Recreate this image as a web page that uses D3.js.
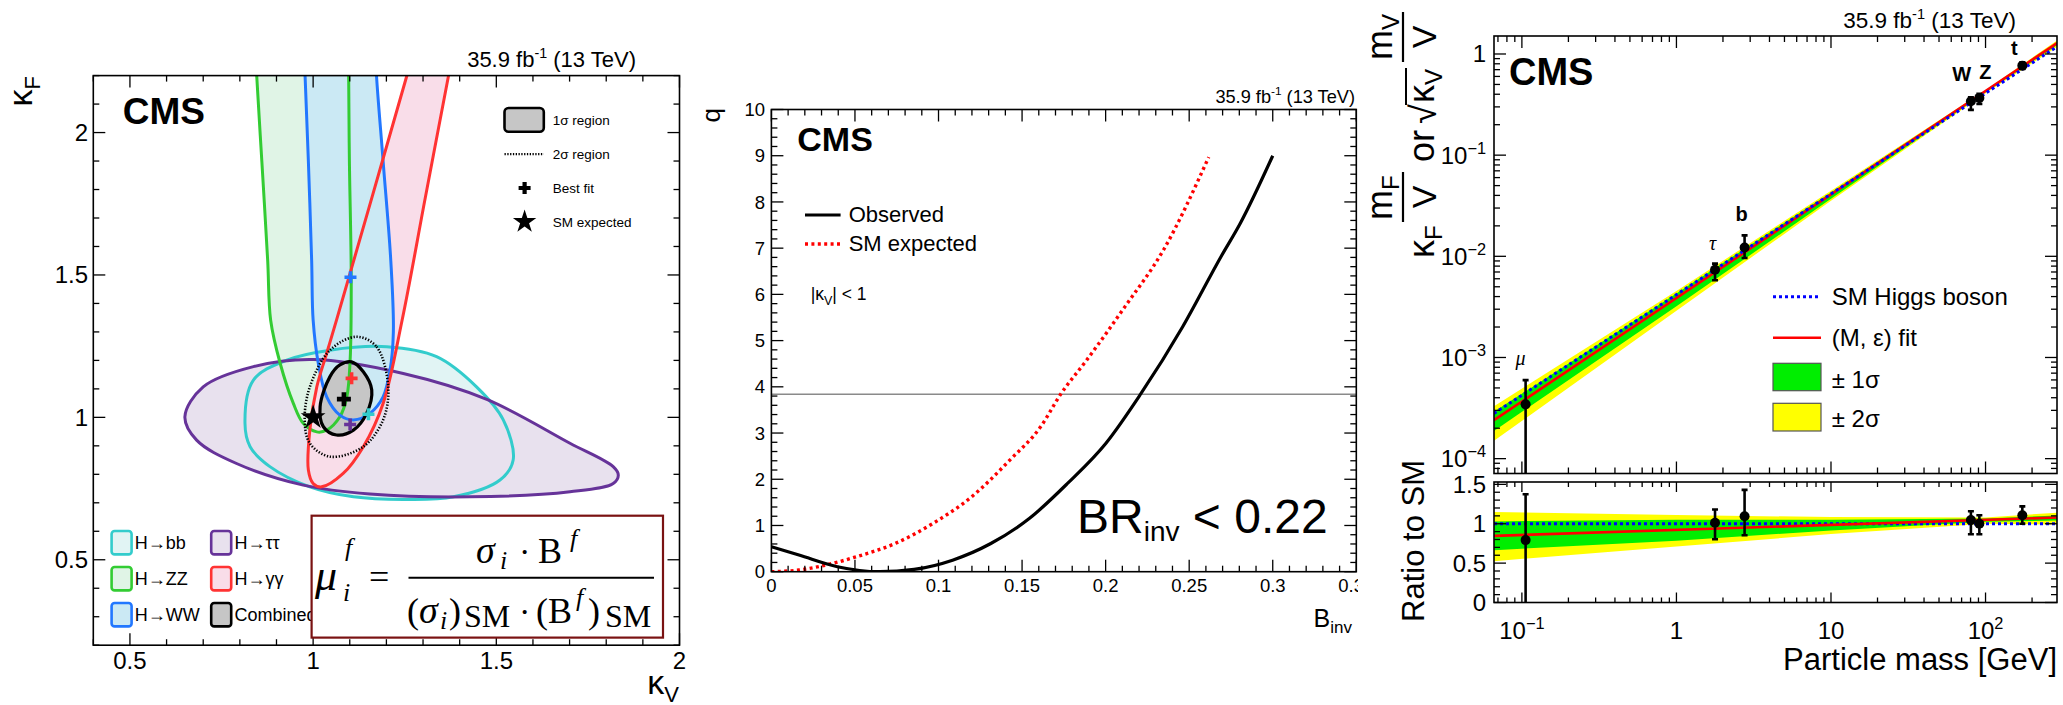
<!DOCTYPE html>
<html><head><meta charset="utf-8">
<script src="https://cdn.jsdelivr.net/npm/d3@7/dist/d3.min.js"></script>
<style>
html,body{margin:0;padding:0;background:#fff;}
svg{display:block;}
text{white-space:pre;}
</style></head>
<body>
<svg id="chart" width="2063" height="705" xmlns="http://www.w3.org/2000/svg"></svg>
<script>
// ================= DATA =================
// ---- Panel 1: kappa_V / kappa_F contours (kV, kF) ----
const kvDomain = [0.4, 2.0];
const kfDomain = [0.2, 2.2];
const p1XTickVals = [0.5, 1, 1.5, 2];
const p1YTickVals = [0.5, 1, 1.5, 2];
const contourBB = [[0.814,0.979],[0.828,0.897],[0.882,0.827],[0.991,0.756],[1.110,0.721],[1.246,0.712],[1.383,0.721],[1.510,0.780],[1.546,0.850],[1.519,0.991],[1.446,1.107],[1.337,1.213],[1.201,1.248],[1.046,1.236],[0.928,1.201],[0.837,1.131]];
const contourTauTau = [[0.650,1.002],[0.700,1.107],[0.837,1.178],[1.0,1.203],[1.246,1.154],[1.474,1.063],[1.701,0.909],[1.819,0.827],[1.833,0.797],[1.819,0.768],[1.701,0.739],[1.428,0.721],[1.155,0.731],[0.973,0.762],[0.791,0.838],[0.682,0.920]];
const contourZZ = [[0.843,2.3],[0.846,2.2],[0.860,1.9],[0.876,1.55],[0.884,1.342],[0.910,1.19],[0.946,1.049],[0.973,0.979],[1.010,0.949],[1.037,0.955],[1.073,1.002],[1.092,1.072],[1.101,1.201],[1.104,1.49],[1.099,1.9],[1.097,2.2],[1.097,2.3]];
const contourWW = [[0.976,2.3],[0.978,2.2],[0.987,1.9],[0.996,1.55],[1.0,1.342],[1.014,1.19],[1.037,1.072],[1.073,1.008],[1.110,0.991],[1.155,1.014],[1.191,1.072],[1.210,1.166],[1.219,1.3],[1.212,1.55],[1.191,1.9],[1.173,2.2],[1.170,2.3]];
const contourGamGam = [[1.278,2.3],[1.255,2.196],[1.160,1.77],[1.064,1.342],[1.037,1.225],[1.010,1.107],[0.991,0.955],[0.987,0.815],[1.0,0.768],[1.023,0.756],[1.082,0.803],[1.137,0.897],[1.191,1.049],[1.243,1.342],[1.306,1.77],[1.369,2.196],[1.385,2.3]];
const combined1sigma = [[1.105,1.195],[1.137,1.160],[1.160,1.096],[1.146,1.014],[1.110,0.955],[1.064,0.938],[1.028,0.967],[1.019,1.037],[1.046,1.143],[1.073,1.184]];
const combined2sigma = [[1.119,1.283],[1.173,1.248],[1.205,1.107],[1.191,0.991],[1.137,0.897],[1.046,0.862],[0.991,0.909],[0.977,0.991],[0.991,1.107],[1.046,1.236]];
const bestFitNames = ["bb","tautau","ZZ","WW","gamgam","combined"];
const bestFitKV    = [1.151, 1.101, 1.084, 1.102, 1.105, 1.084];
const bestFitKF    = [1.011, 0.975, 1.064, 1.492, 1.137, 1.064];
const smPoint = [1.0, 1.0];

// ---- Panel 2: q vs B_inv ----
const bInvDomain = [0, 0.35];
const qDomain = [0, 10];
const p2XTickVals = [0, 0.05, 0.1, 0.15, 0.2, 0.25, 0.3, 0.35];
const p2XTickLabels = ["0", "0.05", "0.1", "0.15", "0.2", "0.25", "0.3", "0.35"];
const p2YTickVals = [0,1,2,3,4,5,6,7,8,9,10];
const bInvObs = [0, 0.0165, 0.0395, 0.0648, 0.0854, 0.1084, 0.1313, 0.1543, 0.1772, 0.2002, 0.2209, 0.2461, 0.2691, 0.2806, 0.300];
const qObs    = [0.54, 0.36, 0.108, 0.0, 0.05, 0.25, 0.61, 1.15, 1.91, 2.78, 3.84, 5.30, 6.82, 7.54, 9.0];
const bInvExp = [0, 0.0165, 0.0326, 0.051, 0.074, 0.0969, 0.1198, 0.1428, 0.1612, 0.1731, 0.1887, 0.2117, 0.2346, 0.2617];
const qExp    = [0, 0.036, 0.144, 0.325, 0.61, 1.05, 1.62, 2.42, 3.14, 3.84, 4.58, 5.74, 6.96, 8.97];
const qThreshold = 3.84;

// ---- Panel 3: coupling vs particle mass ----
const massDomain = [0.066, 290];
const upperDomain = [7.13e-5, 1.506];
const ratioDomain = [0, 1.53];
const particleNames = ["μ", "τ", "b", "W", "Z", "t"];
const particleMass  = [0.1057, 1.777, 2.76, 80.4, 91.2, 173];
const coupling      = [3.44e-4, 7.38e-3, 0.0122, 0.341, 0.368, 0.767];
const couplingUp    = [5.97e-4, 8.47e-3, 0.0161, 0.374, 0.403, 0.827];
const couplingDown  = [0,       5.8e-3,  0.00963, 0.280, 0.321, 0.711];
const ratio         = [0.792, 1.013, 1.096, 1.046, 1.0, 1.108];
const ratioUp       = [1.375, 1.18, 1.43, 1.158, 1.108, 1.22];
const ratioDown     = [0.0, 0.804, 0.854, 0.867, 0.867, 1.0];
const lineMass      = [0.066, 290];
const smLine        = [2.8e-4, 1.18];
const fitLine       = [2.4e-4, 1.28];
const smRatio       = [1.0, 1.0];
const fitRatio      = [0.846, 1.079];
const bandMass      = [0.066, 1, 10, 100, 290];
const band2Lo       = [1.5e-4, 2.9e-3, 0.0355, 0.41, 1.17];
const band2Hi       = [3.3e-4, 4.55e-3, 0.0445, 0.44, 1.36];
const band1Lo       = [1.88e-4, 3.2e-3, 0.037, 0.418, 1.22];
const band1Hi       = [2.9e-4, 4.3e-3, 0.0428, 0.435, 1.31];
const ratioBand2Lo  = [0.525, 0.71, 0.87, 1.0, 0.99];
const ratioBand2Hi  = [1.15, 1.11, 1.085, 1.08, 1.14];
const ratioBand1Lo  = [0.665, 0.785, 0.915, 1.025, 1.04];
const ratioBand1Hi  = [1.03, 1.05, 1.05, 1.065, 1.105];
const p3XTickVals = [0.1, 1, 10, 100];
const p3YTickVals = [1e-4, 1e-3, 1e-2, 1e-1, 1];
const p3RTickVals = [0, 0.5, 1, 1.5];
const p3RTickLabels = ["0", "0.5", "1", "1.5"];

// ================= DRAWING =================
const SANS = '"Liberation Sans", Arial, Helvetica, sans-serif';
const SERIF = '"Liberation Serif", "Times New Roman", serif';
const svg = d3.select("#chart");
svg.append("rect").attr("width", 2063).attr("height", 705).attr("fill", "#fff");
const defs = svg.append("defs");
function clip(id, b) {
  defs.append("clipPath").attr("id", id).append("rect")
    .attr("x", b.x0).attr("y", b.y0).attr("width", b.x1 - b.x0).attr("height", b.y1 - b.y0);
}
function txt(g, x, y, s, o = {}) {
  const t = g.append("text").attr("x", x).attr("y", y)
    .attr("font-family", o.family || SANS).attr("font-size", o.size || 20).attr("fill", o.fill || "#000");
  if (o.anchor) t.attr("text-anchor", o.anchor);
  if (o.weight) t.attr("font-weight", o.weight);
  if (o.style) t.attr("font-style", o.style);
  if (s != null) t.text(s);
  return t;
}
function frame(g, b, w) {
  g.append("rect").attr("x", b.x0).attr("y", b.y0).attr("width", b.x1 - b.x0).attr("height", b.y1 - b.y0)
    .attr("fill", "none").attr("stroke", "#000").attr("stroke-width", w || 1.6);
}
function ticks(g, xs, ys, b, o) {
  const L = g.append("g").attr("stroke", "#000").attr("stroke-width", 1.3);
  const inX = v => { const p = xs(v); return p >= b.x0 - 0.5 && p <= b.x1 + 0.5; };
  const inY = v => { const p = ys(v); return p >= b.y0 - 0.5 && p <= b.y1 + 0.5; };
  const xt = (vals, len) => (vals || []).forEach(v => {
    if (!inX(v)) return; const p = xs(v);
    L.append("line").attr("x1", p).attr("x2", p).attr("y1", b.y1).attr("y2", b.y1 - len);
    L.append("line").attr("x1", p).attr("x2", p).attr("y1", b.y0).attr("y2", b.y0 + len);
  });
  const yt = (vals, len) => (vals || []).forEach(v => {
    if (!inY(v)) return; const p = ys(v);
    L.append("line").attr("y1", p).attr("y2", p).attr("x1", b.x0).attr("x2", b.x0 + len);
    L.append("line").attr("y1", p).attr("y2", p).attr("x1", b.x1).attr("x2", b.x1 - len);
  });
  xt(o.xMajor, o.xMajLen || 12); xt(o.xMinor, o.xMinLen || 6);
  yt(o.yMajor, o.yMajLen || 12); yt(o.yMinor, o.yMinLen || 6);
}
function lumi(g, xr, yb, fs) {
  const t = txt(g, xr, yb, null, { size: fs, anchor: "end" });
  t.append("tspan").text("35.9 fb");
  t.append("tspan").attr("dy", -fs * 0.42).attr("font-size", fs * 0.65).text("-1");
  t.append("tspan").attr("dy", fs * 0.42).text(" (13 TeV)");
}
function plus(g, cx, cy, s, w, col) {
  g.append("path").attr("d", `M${cx - s},${cy}H${cx + s}M${cx},${cy - s}V${cy + s}`)
    .attr("stroke", col).attr("stroke-width", w).attr("fill", "none");
}
function powLabel(t, v, fs) {
  const e = Math.round(Math.log10(v));
  if (e === 0) { t.text("1"); return; }
  if (e === 1) { t.text("10"); return; }
  t.append("tspan").text("10");
  t.append("tspan").attr("dy", -fs * 0.42).attr("font-size", fs * 0.68).text(e < 0 ? "\u2212" + (-e) : String(e));
}
const minorRange = (a, b, s, majors) => d3.range(a, b + s / 2, s).map(v => +v.toFixed(6)).filter(v => !majors.some(m => Math.abs(m - v) < 1e-9));
function logMinors(lo, hi) {
  const out = [];
  for (let e = Math.floor(Math.log10(lo)); e <= Math.ceil(Math.log10(hi)); e++)
    for (let k = 2; k <= 9; k++) { const v = k * Math.pow(10, e); if (v >= lo && v <= hi) out.push(v); }
  return out;
}

// ---------------- Panel 1 ----------------
const P1 = { x0: 93.3, x1: 679.5, y0: 75.6, y1: 645.2 };
const x1 = d3.scaleLinear().domain(kvDomain).range([P1.x0, P1.x1]);
const y1 = d3.scaleLinear().domain(kfDomain).range([P1.y1, P1.y0]);
clip("c1", P1);
const g1 = svg.append("g");
const gc1 = g1.append("g").attr("clip-path", "url(#c1)");
const lnClosed = d3.line().x(d => x1(d[0])).y(d => y1(d[1])).curve(d3.curveCatmullRomClosed.alpha(0.5));
const lnOpen = d3.line().x(d => x1(d[0])).y(d => y1(d[1])).curve(d3.curveCatmullRom.alpha(0.5));
const channels = {
  bb:     { pts: contourBB,     closed: true,  stroke: "#33cccc", fill: "#e1f4f4", label: "H\u2192bb" },
  tautau: { pts: contourTauTau, closed: true,  stroke: "#663399", fill: "#e8e1ee", label: "H\u2192\u03c4\u03c4" },
  ZZ:     { pts: contourZZ,     closed: false, stroke: "#33cc33", fill: "#e0f4e6", label: "H\u2192ZZ" },
  gamgam: { pts: contourGamGam, closed: false, stroke: "#ff3333", fill: "#f9dde9", label: "H\u2192\u03b3\u03b3" },
  WW:     { pts: contourWW,     closed: false, stroke: "#2277ff", fill: "#cbe9f4", label: "H\u2192WW" }
};
const pathOf = c => c.closed ? lnClosed(c.pts) : lnOpen(c.pts);
["bb", "tautau", "ZZ", "gamgam", "WW"].forEach(k => {
  const c = channels[k];
  gc1.append("path").attr("d", c.closed ? lnClosed(c.pts) : lnOpen(c.pts) + "Z").attr("fill", c.fill).attr("stroke", "none");
});
gc1.append("path").attr("d", lnClosed(combined1sigma)).attr("fill", "#c6c6c6");
["bb", "tautau", "ZZ", "WW", "gamgam"].forEach(k => {
  const c = channels[k];
  gc1.append("path").attr("d", pathOf(c)).attr("fill", "none").attr("stroke", c.stroke).attr("stroke-width", 3);
});
gc1.append("path").attr("d", lnClosed(combined2sigma)).attr("fill", "none").attr("stroke", "#000")
  .attr("stroke-width", 2.6).attr("stroke-dasharray", "1.3,1.7");
gc1.append("path").attr("d", lnClosed(combined1sigma)).attr("fill", "none").attr("stroke", "#000").attr("stroke-width", 3.2);
const fitCols = { bb: "#33cccc", tautau: "#663399", ZZ: "#33cc33", WW: "#2277ff", gamgam: "#ff3333", combined: "#000" };
bestFitNames.forEach((n, i) => {
  if (n === "combined") return;
  plus(gc1, x1(bestFitKV[i]), y1(bestFitKF[i]), 6, 3.6, fitCols[n]);
});
gc1.append("path").attr("d", d3.symbol(d3.symbolStar, 190)()).attr("transform", `translate(${x1(smPoint[0])},${y1(smPoint[1])})`).attr("fill", "#000");
const ci = bestFitNames.indexOf("combined");
plus(gc1, x1(bestFitKV[ci]), y1(bestFitKF[ci]), 7, 4.6, "#000");

frame(g1, P1);
ticks(g1, x1, y1, P1, {
  xMajor: p1XTickVals, xMinor: minorRange(0.4, 2.0, 0.1, p1XTickVals),
  yMajor: p1YTickVals, yMinor: minorRange(0.2, 2.2, 0.1, p1YTickVals)
});
p1XTickVals.forEach(v => txt(g1, x1(v), 669, String(v), { size: 24, anchor: "middle" }));
p1YTickVals.forEach(v => txt(g1, 88, y1(v) + 8.5, String(v), { size: 24, anchor: "end" }));
{
  const gk = g1.append("g").attr("transform", "translate(32,76) rotate(-90)");
  const t = txt(gk, 0, 0, null, { size: 34, anchor: "end" });
  t.append("tspan").text("\u03ba");
  t.append("tspan").attr("font-size", 22).attr("dy", 8).text("F");
  const t2 = txt(g1, 679, 694, null, { size: 34, anchor: "end" });
  t2.append("tspan").text("\u03ba");
  t2.append("tspan").attr("font-size", 22).attr("dy", 8).text("V");
}
lumi(g1, 636, 67.4, 22);
txt(g1, 122.8, 123.7, "CMS", { size: 37, weight: "bold" });
g1.append("rect").attr("x", 504.5).attr("y", 108).attr("width", 39.3).attr("height", 23.7).attr("rx", 4)
  .attr("fill", "#c6c6c6").attr("stroke", "#000").attr("stroke-width", 2.6);
txt(g1, 552.7, 125, "1\u03c3 region", { size: 13.5 });
g1.append("line").attr("x1", 504.5).attr("x2", 543.8).attr("y1", 154.2).attr("y2", 154.2)
  .attr("stroke", "#000").attr("stroke-width", 2.2).attr("stroke-dasharray", "1.3,1.5");
txt(g1, 552.7, 159, "2\u03c3 region", { size: 13.5 });
plus(g1, 524.6, 188, 6, 4.2, "#000");
txt(g1, 552.7, 193, "Best fit", { size: 13.5 });
g1.append("path").attr("d", d3.symbol(d3.symbolStar, 170)()).attr("transform", "translate(524.6,221.7)").attr("fill", "#000");
txt(g1, 552.7, 226.5, "SM expected", { size: 13.5 });
const legItems = [
  ["bb", 0, 0], ["ZZ", 0, 1], ["WW", 0, 2], ["tautau", 1, 0], ["gamgam", 1, 1], ["combined", 1, 2]
];
const rowY = [542.7, 578.7, 614.7], colBox = [111.6, 211.2], colTxt = [134.8, 234.4];
legItems.forEach(([k, c, r]) => {
  const ch = channels[k];
  g1.append("rect").attr("x", colBox[c]).attr("y", rowY[r] - 11.7).attr("width", 20).attr("height", 23.4).attr("rx", 3)
    .attr("fill", ch ? ch.fill : "#c6c6c6").attr("stroke", ch ? ch.stroke : "#000").attr("stroke-width", 2.6);
  txt(g1, colTxt[c], rowY[r] + 6.5, ch ? ch.label : "Combined", { size: 18 });
});
{
  const fb = g1.append("g");
  fb.append("rect").attr("x", 311.6).attr("y", 515.7).attr("width", 351.4).attr("height", 121.9)
    .attr("fill", "#fff").attr("stroke", "#7a1212").attr("stroke-width", 2.2);
  const S = (x, y, s, size, it) => txt(fb, x, y, s, { family: SERIF, size: size, style: it ? "italic" : null });
  S(315, 590, "\u03bc", 44, true);
  S(345, 556, "f", 26, true);
  S(343, 601, "i", 26, true);
  S(369, 589, "=", 36, false);
  fb.append("line").attr("x1", 408.5).attr("x2", 654).attr("y1", 577.8).attr("y2", 577.8).attr("stroke", "#000").attr("stroke-width", 2);
  S(476, 563, "\u03c3", 38, true);
  S(500, 569, "i", 26, true);
  S(519, 563, "\u00b7", 34, false);
  S(538, 563, "B", 36, false);
  S(570, 547, "f", 26, true);
  S(407, 622.7, "(", 36, false);
  S(419, 622.7, "\u03c3", 38, true);
  S(440, 629, "i", 26, true);
  S(449, 622.7, ")", 36, false);
  S(464, 627, "SM", 32, false);
  S(519, 622.7, "\u00b7", 34, false);
  S(536, 622.7, "(", 36, false);
  S(548, 622.7, "B", 36, false);
  S(576, 606, "f", 26, true);
  S(588, 622.7, ")", 36, false);
  S(605, 627, "SM", 32, false);
}

// ---------------- Panel 2 ----------------
const P2 = { x0: 771.4, x1: 1356.3, y0: 109.5, y1: 571.7 };
const x2 = d3.scaleLinear().domain(bInvDomain).range([P2.x0, P2.x1]);
const y2 = d3.scaleLinear().domain(qDomain).range([P2.y1, P2.y0]);
clip("c2", P2);
clip("c2lab", { x0: 690, x1: 1358, y0: 0, y1: 705 });
const g2 = svg.append("g");
const gc2 = g2.append("g").attr("clip-path", "url(#c2)");
gc2.append("line").attr("x1", P2.x0).attr("x2", P2.x1).attr("y1", y2(qThreshold)).attr("y2", y2(qThreshold))
  .attr("stroke", "#8a8a8a").attr("stroke-width", 1.6);
const ln2 = d3.line().x(d => x2(d[0])).y(d => y2(d[1])).curve(d3.curveMonotoneX);
gc2.append("path").attr("d", ln2(bInvExp.map((b, i) => [b, qExp[i]]))).attr("fill", "none")
  .attr("stroke", "#ff0000").attr("stroke-width", 3.4).attr("stroke-dasharray", "3,3.4");
gc2.append("path").attr("d", ln2(bInvObs.map((b, i) => [b, qObs[i]]))).attr("fill", "none")
  .attr("stroke", "#000").attr("stroke-width", 3.2);
frame(g2, P2);
ticks(g2, x2, y2, P2, {
  xMajor: p2XTickVals, xMinor: minorRange(0, 0.35, 0.01, p2XTickVals),
  yMajor: p2YTickVals, yMinor: minorRange(0, 10, 0.2, p2YTickVals)
});
const g2lab = g2.append("g").attr("clip-path", "url(#c2lab)");
p2XTickVals.forEach((v, i) => txt(g2lab, x2(v), 592, p2XTickLabels[i], { size: 18.5, anchor: "middle" }));
p2YTickVals.forEach(v => txt(g2, 765, y2(v) + 6.6, String(v), { size: 18.5, anchor: "end" }));
{
  const gq = g2.append("g").attr("transform", "translate(720,108) rotate(-90)");
  txt(gq, 0, 0, "q", { size: 26, anchor: "end" });
  const tb = txt(g2, 1352, 627, null, { size: 25, anchor: "end" });
  tb.append("tspan").text("B");
  tb.append("tspan").attr("font-size", 17).attr("dy", 6).text("inv");
}
lumi(g2, 1355, 102.5, 18.2);
txt(g2, 797.3, 150.6, "CMS", { size: 34, weight: "bold" });
g2.append("line").attr("x1", 805).attr("x2", 840.6).attr("y1", 215).attr("y2", 215).attr("stroke", "#000").attr("stroke-width", 3.2);
txt(g2, 848.7, 221.5, "Observed", { size: 22 });
g2.append("line").attr("x1", 805).attr("x2", 840.6).attr("y1", 244).attr("y2", 244).attr("stroke", "#ff0000")
  .attr("stroke-width", 3.4).attr("stroke-dasharray", "3,3.4");
txt(g2, 848.7, 251, "SM expected", { size: 22 });
{
  const t = txt(g2, 810.7, 300.4, null, { size: 17.5 });
  t.append("tspan").text("|\u03ba");
  t.append("tspan").attr("font-size", 12.5).attr("dy", 5).text("V");
  t.append("tspan").attr("dy", -5).text("| < 1");
  const b = txt(g2, 1077, 533, null, { size: 48 });
  b.append("tspan").text("BR");
  b.append("tspan").attr("font-size", 28).attr("dy", 8).text("inv");
  b.append("tspan").attr("dy", -8).text(" < 0.22");
}

// ---------------- Panel 3 ----------------
const P3u = { x0: 1494, x1: 2057, y0: 36, y1: 473.5 };
const P3l = { x0: 1494, x1: 2057, y0: 482, y1: 602.5 };
const x3 = d3.scaleLog().domain(massDomain).range([P3u.x0, P3u.x1]);
const y3 = d3.scaleLog().domain(upperDomain).range([P3u.y1, P3u.y0]);
const r3 = d3.scaleLinear().domain(ratioDomain).range([P3l.y1, P3l.y0]);
clip("c3u", P3u); clip("c3l", P3l);
const g3 = svg.append("g");
const gu = g3.append("g").attr("clip-path", "url(#c3u)");
const gl = g3.append("g").attr("clip-path", "url(#c3l)");
function bandArea(ys, lo, hi) {
  return d3.area().x((d, i) => x3(bandMass[i])).y0((d, i) => ys(lo[i])).y1((d, i) => ys(hi[i]))(bandMass);
}
gu.append("path").attr("d", bandArea(y3, band2Lo, band2Hi)).attr("fill", "#ffff00");
gu.append("path").attr("d", bandArea(y3, band1Lo, band1Hi)).attr("fill", "#00ee00");
gl.append("path").attr("d", bandArea(r3, ratioBand2Lo, ratioBand2Hi)).attr("fill", "#ffff00");
gl.append("path").attr("d", bandArea(r3, ratioBand1Lo, ratioBand1Hi)).attr("fill", "#00ee00");
const lineOf = (ys, vals) => d3.line().x((d, i) => x3(lineMass[i])).y((d, i) => ys(vals[i]))(lineMass);
gu.append("path").attr("d", lineOf(y3, fitLine)).attr("stroke", "#ff0000").attr("stroke-width", 2.6).attr("fill", "none");
gu.append("path").attr("d", lineOf(y3, smLine)).attr("stroke", "#0000ff").attr("stroke-width", 3).attr("stroke-dasharray", "3,3").attr("fill", "none");
gl.append("path").attr("d", lineOf(r3, smRatio)).attr("stroke", "#0000ff").attr("stroke-width", 3).attr("stroke-dasharray", "3,3").attr("fill", "none");
gl.append("path").attr("d", lineOf(r3, fitRatio)).attr("stroke", "#ff0000").attr("stroke-width", 2.6).attr("fill", "none");
function points(g, ys, val, up, down, floorV) {
  particleMass.forEach((m, i) => {
    const px = x3(m);
    const lo = down[i] > floorV ? ys(down[i]) : ys.range()[0] + 20;
    const hi = ys(up[i]);
    g.append("line").attr("x1", px).attr("x2", px).attr("y1", lo).attr("y2", hi).attr("stroke", "#000").attr("stroke-width", 2.6);
    g.append("line").attr("x1", px - 3).attr("x2", px + 3).attr("y1", hi).attr("y2", hi).attr("stroke", "#000").attr("stroke-width", 2.6);
    if (down[i] > floorV) g.append("line").attr("x1", px - 3).attr("x2", px + 3).attr("y1", lo).attr("y2", lo).attr("stroke", "#000").attr("stroke-width", 2.6);
    g.append("circle").attr("cx", px).attr("cy", ys(val[i])).attr("r", 5).attr("fill", "#000");
  });
}
points(gu, y3, coupling, couplingUp, couplingDown, upperDomain[0]);
points(gl, r3, ratio, ratioUp, ratioDown, 0.001);
frame(g3, P3u); frame(g3, P3l);
const xMin3 = logMinors(massDomain[0], massDomain[1]);
ticks(g3, x3, y3, P3u, { xMajor: p3XTickVals, xMinor: xMin3, yMajor: p3YTickVals, yMinor: logMinors(upperDomain[0], upperDomain[1]) });
ticks(g3, x3, r3, P3l, { xMajor: p3XTickVals, xMinor: xMin3, yMajor: p3RTickVals, yMinor: minorRange(0, 1.5, 0.1, p3RTickVals), xMajLen: 10, xMinLen: 5 });
p3XTickVals.forEach(v => powLabel(txt(g3, x3(v), 639, null, { size: 24, anchor: "middle" }), v, 24));
p3YTickVals.forEach(v => powLabel(txt(g3, 1486, y3(v) + 8.5, null, { size: 24, anchor: "end" }), v, 24));
p3RTickVals.forEach((v, i) => txt(g3, 1486, r3(v) + 8.5, p3RTickLabels[i], { size: 24, anchor: "end" }));
txt(g3, 2057, 670, "Particle mass [GeV]", { size: 31, anchor: "end" });
lumi(g3, 2016, 28.3, 22.5);
txt(g3, 1509, 85, "CMS", { size: 38, weight: "bold" });
const lblPos = {
  "μ": [1520.5, 365, SERIF, "italic", "normal"], "τ": [1712.5, 250, SERIF, "italic", "normal"],
  "b": [1741.7, 220.7, SANS, "normal", "bold"], "W": [1961.8, 81, SANS, "normal", "bold"],
  "Z": [1985.4, 79.3, SANS, "normal", "bold"], "t": [2014.3, 55, SANS, "normal", "bold"]
};
particleNames.forEach(n => {
  const p = lblPos[n];
  txt(g3, p[0], p[1], n, { size: 20, anchor: "middle", family: p[2], style: p[3], weight: p[4] });
});
g3.append("line").attr("x1", 1773).attr("x2", 1821).attr("y1", 296.7).attr("y2", 296.7).attr("stroke", "#0000ff").attr("stroke-width", 3).attr("stroke-dasharray", "3,3");
txt(g3, 1831.7, 305, "SM Higgs boson", { size: 24 });
g3.append("line").attr("x1", 1773).attr("x2", 1821).attr("y1", 337.7).attr("y2", 337.7).attr("stroke", "#ff0000").attr("stroke-width", 2.6);
txt(g3, 1831.7, 346, "(M, \u03b5) fit", { size: 24 });
g3.append("rect").attr("x", 1773).attr("y", 363.3).attr("width", 48).attr("height", 27.4).attr("fill", "#00ee00").attr("stroke", "#555").attr("stroke-width", 1.2);
txt(g3, 1831.7, 388, "\u00b1 1\u03c3", { size: 24 });
g3.append("rect").attr("x", 1773).attr("y", 403.3).attr("width", 48).attr("height", 27.7).attr("fill", "#ffff00").attr("stroke", "#555").attr("stroke-width", 1.2);
txt(g3, 1831.7, 427, "\u00b1 2\u03c3", { size: 24 });
// y axis titles (rotated)
{
  const ga = g3.append("g").attr("transform", "translate(1434,258) rotate(-90)");
  const F = 36, Fs = 24, numY = -42, barY = -31, denY = 2;
  let t = txt(ga, 0, 0, null, { size: F });
  t.append("tspan").text("\u03ba"); t.append("tspan").attr("font-size", Fs).attr("dy", 8).text("F");
  t = txt(ga, 38, numY, null, { size: F });
  t.append("tspan").text("m"); t.append("tspan").attr("font-size", Fs).attr("dy", 7).text("F");
  ga.append("line").attr("x1", 36).attr("x2", 86).attr("y1", barY).attr("y2", barY).attr("stroke", "#000").attr("stroke-width", 2.2);
  txt(ga, 61, denY, "V", { size: F - 2, anchor: "middle" });
  txt(ga, 96, 0, "or", { size: F });
  txt(ga, 134, 2, "\u221a", { size: F });
  ga.append("line").attr("x1", 153).attr("x2", 190).attr("y1", -28).attr("y2", -28).attr("stroke", "#000").attr("stroke-width", 2);
  t = txt(ga, 155, 0, null, { size: F });
  t.append("tspan").text("\u03ba"); t.append("tspan").attr("font-size", Fs).attr("dy", 8).text("V");
  t = txt(ga, 198, numY, null, { size: F });
  t.append("tspan").text("m"); t.append("tspan").attr("font-size", Fs).attr("dy", 7).text("V");
  ga.append("line").attr("x1", 196).attr("x2", 246).attr("y1", barY).attr("y2", barY).attr("stroke", "#000").attr("stroke-width", 2.2);
  txt(ga, 221, denY, "V", { size: F - 2, anchor: "middle" });
  const gr = g3.append("g").attr("transform", "translate(1424,541) rotate(-90)");
  txt(gr, 0, 0, "Ratio to SM", { size: 31, anchor: "middle" });
}
</script>
</body></html>
